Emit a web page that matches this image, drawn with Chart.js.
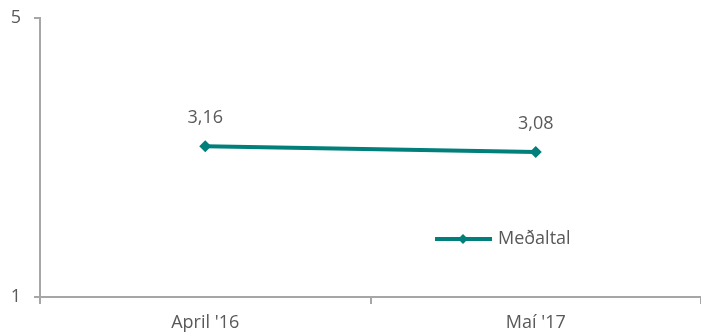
<!DOCTYPE html>
<html>
<head>
<meta charset="utf-8">
<script src="https://cdn.jsdelivr.net/npm/chart.js@4"></script>
<style>
  html, body { margin: 0; padding: 0; background: #fff; }
  #wrap { width: 701px; height: 336px; }
</style>
</head>
<body>
<div id="wrap"><canvas id="myChart" width="701" height="336"></canvas></div>
<script>
const categories = ["April '16", "Maí '17"];
const averageValues = [3.16, 3.08];
const seriesLabel = 'Meðaltal';
const yTicks = [1, 5];

const teal = '#007f7b';
const textColor = '#595959';
const axisColor = '#a6a6a6';
const fontFamily = "'Open Sans', sans-serif";

// labels above each point, comma as decimal separator
const valueLabels = {
    id: 'valueLabels',
    afterDatasetsDraw(chart) {
        const ctx = chart.ctx;
        const meta = chart.getDatasetMeta(0);
        ctx.save();
        ctx.font = '18px ' + fontFamily;
        ctx.fillStyle = textColor;
        ctx.textAlign = 'center';
        ctx.textBaseline = 'middle';
        meta.data.forEach((pt, i) => {
            const txt = averageValues[i].toFixed(2).replace('.', ',');
            ctx.fillText(txt, pt.x, pt.y - 28);
        });
        ctx.restore();
    }
};

// legend drawn inside the plot area
const innerLegend = {
    id: 'innerLegend',
    afterDraw(chart) {
        const ctx = chart.ctx;
        const area = chart.chartArea;
        const x0 = area.left + (area.right - area.left) * 0.5976;
        const y = area.top + (area.bottom - area.top) * 0.792;
        ctx.save();
        ctx.strokeStyle = teal;
        ctx.lineWidth = 4;
        ctx.beginPath();
        ctx.moveTo(x0, y);
        ctx.lineTo(x0 + 57, y);
        ctx.stroke();
        ctx.fillStyle = teal;
        ctx.beginPath();
        ctx.moveTo(x0 + 28, y - 5);
        ctx.lineTo(x0 + 33, y);
        ctx.lineTo(x0 + 28, y + 5);
        ctx.lineTo(x0 + 23, y);
        ctx.closePath();
        ctx.fill();
        ctx.font = '18px ' + fontFamily;
        ctx.fillStyle = textColor;
        ctx.textAlign = 'left';
        ctx.textBaseline = 'middle';
        ctx.fillText(seriesLabel, x0 + 63, y);
        ctx.restore();
    }
};

const ctx = document.getElementById('myChart').getContext('2d');
new Chart(ctx, {
    type: 'line',
    data: {
        labels: categories,
        datasets: [{
            label: seriesLabel,
            data: averageValues,
            borderColor: teal,
            backgroundColor: teal,
            borderWidth: 4,
            pointStyle: 'rectRot',
            pointRadius: 6,
            pointHoverRadius: 6,
            pointBorderWidth: 0,
            tension: 0
        }]
    },
    options: {
        responsive: false,
        animation: false,
        layout: { autoPadding: false, padding: { top: 18, right: 0, left: 0, bottom: 0 } },
        plugins: {
            legend: { display: false },
            tooltip: { enabled: false }
        },
        scales: {
            x: {
                offset: true,
                grid: {
                    offset: true,
                    drawOnChartArea: false,
                    drawTicks: true,
                    tickLength: 7,
                    color: axisColor,
                    lineWidth: 2
                },
                border: { display: true, color: axisColor, width: 2 },
                ticks: {
                    color: textColor,
                    font: { family: fontFamily, size: 18 },
                    padding: 8,
                    maxRotation: 0
                },
                afterFit(scale) {
                    scale.height = 39;
                    scale.paddingLeft = 0;
                    scale.paddingRight = 0;
                }
            },
            y: {
                min: 1,
                max: 5,
                afterBuildTicks(scale) { scale.ticks = yTicks.map(v => ({ value: v })); },
                grid: {
                    drawOnChartArea: false,
                    drawTicks: true,
                    tickLength: 6,
                    color: axisColor,
                    lineWidth: 2
                },
                border: { display: true, color: axisColor, width: 2 },
                ticks: {
                    color: textColor,
                    font: { family: fontFamily, size: 18 },
                    padding: 13
                },
                afterFit(scale) {
                    scale.width = 40;
                    scale.paddingTop = 0;
                    scale.paddingBottom = 0;
                }
            }
        }
    },
    plugins: [valueLabels, innerLegend]
});
</script>
</body>
</html>
